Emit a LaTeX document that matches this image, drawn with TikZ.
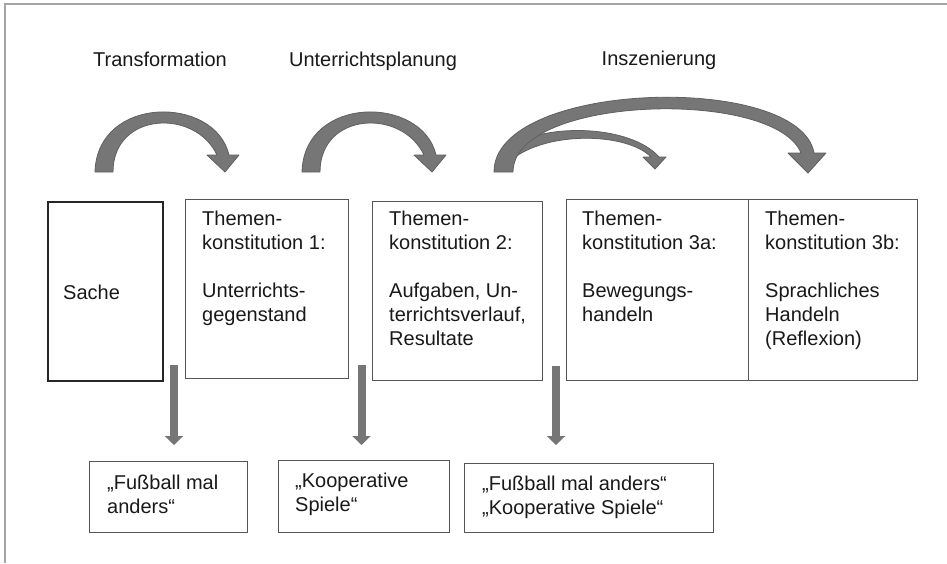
\documentclass[tikz,border=0pt]{standalone}
\usepackage{fontspec}
\setmainfont{Liberation Sans}
\usetikzlibrary{arrows.meta}
\definecolor{arrowgray}{RGB}{118,118,118}
\definecolor{arrowedge}{RGB}{96,96,96}
\definecolor{framegray}{RGB}{165,165,165}
\definecolor{boxgray}{RGB}{85,85,85}
\begin{document}
\begin{tikzpicture}[x=1pt,y=-1pt,
  txt/.style={font=\fontsize{20}{24}\selectfont, inner sep=0pt, align=left, anchor=north west, text=black!90},
  title/.style={font=\fontsize{20}{24}\selectfont, inner sep=0pt, anchor=base, text=black!90},
  box/.style={draw=boxgray, line width=1.4pt, inner sep=0pt, anchor=north west},
  bentarrow/.style={fill=arrowgray, draw=arrowedge, line width=0.8pt, line join=round},
  downarrow/.style={draw=arrowgray, line width=8pt, -{Triangle[width=18pt,length=9pt]}}]
\useasboundingbox (0,0) rectangle (947,563);
\fill[white] (0,0) rectangle (947,563);
% frame
\draw[framegray, line width=2pt] (5,563) -- (5,4) -- (947,4);

% titles
\node[title] (tTrans) at (160,66) {Transformation};
\node[title] (tPlan) at (373,66) {Unterrichtsplanung};
\node[title] (tInsz) at (659,65) {Inszenierung};

% boxes
\node[box, draw=black!85, line width=1.8pt, minimum width=115pt, minimum height=179pt] (sache) at (47,201) {};
\node[box, minimum width=163pt, minimum height=179pt] (tk1) at (185,199) {};
\node[box, minimum width=170pt, minimum height=179pt] (tk2) at (372,201) {};
\node[box, minimum width=182pt, minimum height=181pt] (tk3a) at (566,199) {};
\node[box, minimum width=169pt, minimum height=181pt] (tk3b) at (748,199) {};
\node[box, minimum width=158pt, minimum height=71pt] (b1) at (89,461) {};
\node[box, minimum width=171pt, minimum height=72pt] (b2) at (278,460) {};
\node[box, minimum width=249pt, minimum height=69pt] (b3) at (464,463) {};

% texts
\node[txt] (xsache) at (63,284.4) {Sache};
\node[txt] (xtk1) at (202,210.7) {Themen-\\konstitution 1:\\[24pt]Unterrichts-\\gegenstand};
\node[txt] (xtk2) at (389,210.7) {Themen-\\konstitution 2:\\[24pt]Aufgaben, Un-\\terrichtsverlauf,\\Resultate};
\node[txt] (xtk3a) at (582,210.7) {Themen-\\konstitution 3a:\\[24pt]Bewegungs-\\handeln};
\node[txt] (xtk3b) at (765,210.7) {Themen-\\konstitution 3b:\\[24pt]Sprachliches\\Handeln\\(Reflexion)};
\node[txt] (xb1) at (107,474.5) {„Fußball mal\\anders“};
\node[txt] (xb2) at (295,472.5) {„Kooperative\\Spiele“};
\node[txt] (xb3) at (482,475.5) {„Fußball mal anders“\\„Kooperative Spiele“};

% curved block arrows
\path[bentarrow] (95,172) .. controls (97,95) and (215,95) .. (229,155)
  -- (239,155) -- (225,172) -- (207,155) -- (217,155)
  .. controls (195,108) and (113,112) .. (113,172) -- cycle;
\begin{scope}[shift={(207,0)}]
\path[bentarrow] (95,172) .. controls (97,95) and (215,95) .. (229,155)
  -- (239,155) -- (225,172) -- (207,155) -- (217,155)
  .. controls (195,108) and (113,112) .. (113,172) -- cycle;
\end{scope}
\path[bentarrow] (505,150) .. controls (540,122) and (630,124) .. (659,157)
  -- (666,157) -- (655,169) -- (643,157) -- (651,157)
  .. controls (628,133) and (548,130) .. (511,160) -- cycle;
\path[bentarrow] (494,172) .. controls (494,80) and (800,72) .. (814,153)
  -- (826,153) -- (808,173) -- (788,153) -- (801,153)
  .. controls (775,88) and (513,95) .. (513,172) -- cycle;

% vertical arrows
\coordinate (v1) at (174,365);
\coordinate (v2) at (361.5,365);
\coordinate (v3) at (556,366);
\draw[downarrow, shorten >=16pt] (v1) -- (v1 |- b1.north);
\draw[downarrow, shorten >=15pt] (v2) -- (v2 |- b2.north);
\draw[downarrow, shorten >=18pt] (v3) -- (v3 |- b3.north);
\end{tikzpicture}
\end{document}
